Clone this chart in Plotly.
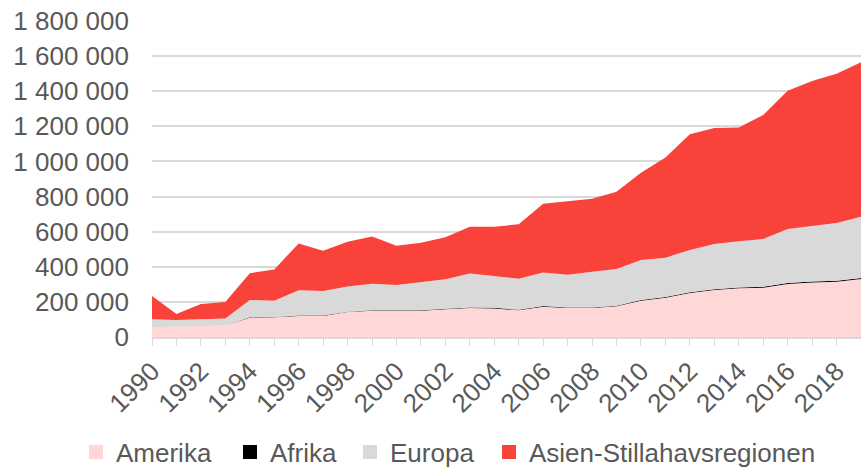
import plotly.graph_objects as go

years = list(range(1990, 2020))
amerika = [55, 59, 63, 65, 110, 112, 120, 120, 142, 150, 150, 150, 158, 165, 163,
           152, 173, 165, 165, 175, 207, 224, 251, 268, 277, 281, 302, 311, 315, 330]
afrika = [1, 1, 1, 1, 2, 2, 2, 2, 2, 2, 2, 2, 3, 3, 3,
          3, 3, 3, 3, 3, 4, 4, 4, 4, 5, 5, 5, 5, 5, 6]
europa = [45, 37, 37, 40, 99, 93, 144, 140, 143, 152, 144, 161, 168, 193, 179,
          177, 192, 187, 204, 209, 228, 224, 241, 258, 263, 272, 308, 318, 329, 349]
asien = [132, 34, 87, 93, 152, 178, 267, 230, 256, 268, 224, 224, 239, 267, 283,
         310, 391, 420, 416, 441, 497, 571, 659, 660, 649, 706, 788, 824, 851, 880]

series = [
    ("Amerika", [v * 1000 for v in amerika], "#FFD7D7"),
    ("Afrika", [v * 1000 for v in afrika], "#000000"),
    ("Europa", [v * 1000 for v in europa], "#D9D9D9"),
    ("Asien-Stillahavsregionen", [v * 1000 for v in asien], "#F9423A"),
]

ytickvals = [0, 200000, 400000, 600000, 800000, 1000000, 1200000, 1400000, 1600000, 1800000]
yticktext = ["0", "200 000", "400 000", "600 000", "800 000", "1 000 000",
             "1 200 000", "1 400 000", "1 600 000", "1 800 000"]
xtickvals = list(range(1990, 2020, 2))

FONT = "Liberation Sans, Arial, sans-serif"
W, H = 861, 468
# legend square centres (px) for the four entries
legend_px = [96, 250, 370, 509]

fig = go.Figure()
for name, vals, col in series:
    fig.add_trace(go.Scatter(
        x=years, y=vals, name=name, mode="lines", stackgroup="one",
        line=dict(width=0, color=col), fillcolor=col, showlegend=False,
    ))

legend_layouts = {}
for i, (name, vals, col) in enumerate(series):
    key = "legend" if i == 0 else f"legend{i + 1}"
    fig.add_trace(go.Scatter(
        x=[None], y=[None], name=name, mode="markers",
        marker=dict(symbol="square", size=14, color=col), showlegend=True,
        legend=key,
    ))
    legend_layouts[key] = dict(
        orientation="h", xanchor="left", x=(legend_px[i] - 20) / W, xref="container",
        yanchor="middle", y=0.034, yref="container",
        font=dict(family=FONT, size=26, color="#595959"),
        itemwidth=30, bgcolor="rgba(0,0,0,0)",
    )

fig.update_layout(
    width=W, height=H,
    margin=dict(l=152, r=0, t=21, b=131, autoexpand=False),
    paper_bgcolor="white", plot_bgcolor="white",
    font=dict(family=FONT, size=26, color="#595959"),
    showlegend=True,
    xaxis=dict(range=[1990, 2019], tickmode="array", tickvals=xtickvals,
               tickangle=-45, ticks="outside", ticklen=7, tickcolor="#D9D9D9",
               showgrid=False, zeroline=False, showline=True, linecolor="#D9D9D9",
               linewidth=1.5, automargin=False,
               minor=dict(dtick=1, tick0=1990, ticks="outside", ticklen=7, tickcolor="#D9D9D9"),
               tickfont=dict(size=26)),
    yaxis=dict(range=[0, 1800000], tickmode="array", tickvals=ytickvals, ticktext=yticktext,
               showgrid=True, gridcolor="#D9D9D9", gridwidth=1.5, zeroline=False,
               ticks="", ticklabelstandoff=22, automargin=False, tickfont=dict(size=26)),
    **legend_layouts,
)

fig.write_html("out.html", config={"displayModeBar": False},
               post_script="document.body.style.margin='0';")
